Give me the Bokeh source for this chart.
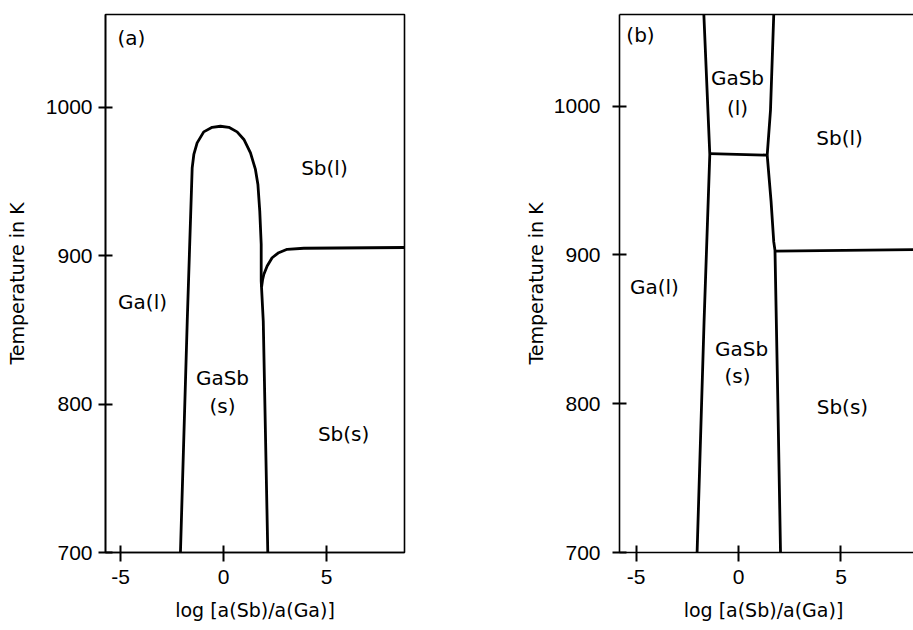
from bokeh.plotting import figure
from bokeh.models import Range1d, FixedTicker, LinearAxis
from bokeh.layouts import row
from bokeh.embed import file_html
from bokeh.resources import INLINE
from bokeh.core.properties import value

# ---------------- data ----------------
x_ticks = [-5, 0, 5]
x_tick_labels = ["-5", "0", "5"]
T_ticks = [700, 800, 900, 1000]
T_tick_labels = ["700", "800", "900", "1000"]
x_label_a = "log [a(Sb)/a(Ga)]"
x_label_b = "log  [a(Sb)/a(Ga)]"
y_label = "Temperature in K"

# panel (a): GaSb(s) field boundary (left side, dome, right side)
a_gasb_x = [-2.09, -1.76, -1.52, -1.44, -1.28, -0.96, -0.55, -0.15, 0.26, 0.66,
            0.99, 1.31, 1.55, 1.67, 1.76, 1.83, 1.83, 1.93, 2.15]
a_gasb_T = [700, 856, 959.2, 968.2, 976.0, 983.4, 986.5, 987.2, 986.5, 983.4,
            978.3, 969.3, 958.1, 948.0, 930.0, 907.6, 883, 856, 700]
# panel (a): Sb(l)/Sb(s) boundary
a_sb_x = [1.85, 1.90, 1.96, 2.12, 2.36, 2.68, 3.09, 3.90, 8.79]
a_sb_T = [879, 884, 887.5, 893, 898.6, 902, 904.3, 905, 905.5]

# panel (b): boundaries
b_left_x = [-1.69, -1.40, -1.68, -2.02]
b_left_T = [1061.5, 967.5, 855, 700]
b_mid_x = [-1.40, 1.40]
b_mid_T = [968, 967]
b_right_up_x = [1.72, 1.56, 1.40]
b_right_up_T = [1061.5, 997, 967]
b_right_lo_x = [1.40, 1.59, 1.72, 1.78, 1.92, 2.05]
b_right_lo_T = [967, 935.7, 908.7, 903, 801, 700]
b_sb_x = [1.78, 8.54]
b_sb_T = [902.5, 903.5]

# region labels
a_lab_text = ["(a)", "Sb(l)", "Ga(l)", "GaSb", "(s)", "Sb(s)"]
a_lab_x = [-4.47, 4.90, -3.93, -0.05, -0.05, 5.83]
a_lab_T = [1046.4, 959.3, 868.8, 817.7, 798.9, 780.0]

b_lab_text = ["(b)", "GaSb", "(l)", "Sb(l)", "Ga(l)", "GaSb", "(s)", "Sb(s)"]
b_lab_x = [-4.78, -0.05, -0.05, 4.93, -4.10, 0.15, -0.05, 5.07]
b_lab_T = [1048.0, 1018.5, 999.0, 978.8, 878.7, 837.0, 818.9, 797.5]

# ---------------- styling ----------------
TICK_FONT = "Liberation Sans"
TEXT_FONT = "DejaVu Sans"
LW = 2.8
FRAME_W = 1.6


def style_axes(p, y_label_standoff, y_tick_label_standoff, xlab):
    p.grid.visible = False
    p.background_fill_color = "white"
    p.border_fill_color = "white"
    for ax in p.xaxis:
        ax.ticker = FixedTicker(ticks=x_ticks)
        ax.major_label_overrides = dict(zip(x_ticks, x_tick_labels))
        ax.major_tick_in = 7
        ax.major_tick_out = 9
        ax.major_label_standoff = 8
        ax.axis_label = xlab
        ax.axis_label_standoff = 12
    for ax in p.yaxis:
        ax.ticker = FixedTicker(ticks=T_ticks)
        ax.major_label_overrides = dict(zip(T_ticks, T_tick_labels))
        ax.major_tick_in = 7
        ax.major_tick_out = 7
        ax.major_label_standoff = y_tick_label_standoff
        ax.axis_label = y_label
        ax.axis_label_standoff = y_label_standoff
    for ax in list(p.xaxis) + list(p.yaxis):
        ax.minor_tick_line_color = None
        ax.major_tick_line_width = 2
        ax.major_tick_line_color = "black"
        ax.axis_line_color = "black"
        ax.axis_line_width = FRAME_W
        ax.major_label_text_font = TICK_FONT
        ax.major_label_text_font_size = "21px"
        ax.major_label_text_color = "black"
        ax.axis_label_text_font = TEXT_FONT
        ax.axis_label_text_font_size = "19px"
        ax.axis_label_text_font_style = "normal"
        ax.axis_label_text_color = "black"


def add_labels(p, xs, ts, texts):
    p.text(x=xs, y=ts, text=texts, text_align="center", text_baseline="middle",
           text_font=value(TEXT_FONT), text_font_size="20px", text_color="black")


# ---------------- panel (a) ----------------
pa = figure(width=520, height=630, x_range=Range1d(-5.728, 8.786),
            y_range=Range1d(700, 1062.5), output_backend="svg",
            toolbar_location=None, min_border_left=105, min_border_right=116,
            min_border_top=13, min_border_bottom=78)
pa.outline_line_color = "black"
pa.outline_line_width = FRAME_W
pa.outline_line_alpha = 1.0
style_axes(pa, 15, 6, x_label_a)
pa.line(a_gasb_x, a_gasb_T, line_width=LW, line_color="black", line_join="round")
pa.line(a_sb_x, a_sb_T, line_width=LW, line_color="black", line_join="round")
add_labels(pa, a_lab_x, a_lab_T, a_lab_text)

# ---------------- panel (b) ----------------
pb = figure(width=393, height=630, x_range=Range1d(-5.805, 8.537),
            y_range=Range1d(700, 1061.5), output_backend="svg",
            toolbar_location=None, min_border_left=99, min_border_right=0,
            min_border_top=14, min_border_bottom=78)
pb.outline_line_color = None
style_axes(pb, 4, 12, x_label_b)
top = LinearAxis(ticker=FixedTicker(ticks=[]), major_label_text_font_size="0px",
                 major_tick_in=0, major_tick_out=0, minor_tick_in=0, minor_tick_out=0,
                 major_label_standoff=0, axis_line_width=FRAME_W, axis_line_color="black")
pb.add_layout(top, "above")
for xs, ts in [(b_left_x, b_left_T), (b_mid_x, b_mid_T), (b_right_up_x, b_right_up_T),
               (b_right_lo_x, b_right_lo_T), (b_sb_x, b_sb_T)]:
    pb.line(xs, ts, line_width=LW, line_color="black", line_join="round")
add_labels(pb, b_lab_x, b_lab_T, b_lab_text)

layout = row(pa, pb)
open("out.html", "w").write(file_html(layout, INLINE))
